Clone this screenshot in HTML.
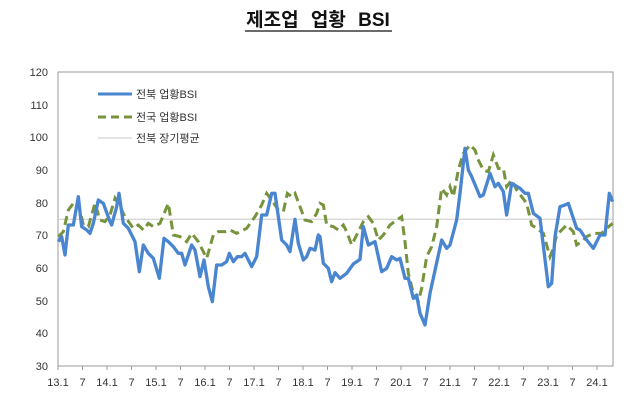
<!DOCTYPE html>
<html><head><meta charset="utf-8"><style>
body{margin:0;background:#fff;width:640px;height:404px;overflow:hidden}
svg{display:block;font-family:"Liberation Sans","Noto Sans CJK KR",sans-serif}
</style></head><body>
<svg width="640" height="404" viewBox="0 0 640 404">
<text x="318" y="26" text-anchor="middle" font-size="19" font-weight="bold" fill="#111" word-spacing="7">제조업 업황 BSI</text>
<line x1="245" y1="31" x2="392" y2="31" stroke="#111" stroke-width="1.3"/>
<rect x="58" y="72" width="555" height="294" fill="none" stroke="#999" stroke-width="1"/>
<g font-size="11" fill="#333" text-anchor="end">
<text x="48" y="76">120</text><text x="48" y="109">110</text><text x="48" y="141">100</text>
<text x="48" y="174">90</text><text x="48" y="207">80</text><text x="48" y="239">70</text>
<text x="48" y="272">60</text><text x="48" y="305">50</text><text x="48" y="337">40</text><text x="48" y="370">30</text>
</g>
<g stroke="#999" stroke-width="1">
<line x1="58" y1="366" x2="58" y2="370"/><line x1="82.5" y1="366" x2="82.5" y2="370"/><line x1="107" y1="366" x2="107" y2="370"/><line x1="131.5" y1="366" x2="131.5" y2="370"/><line x1="156" y1="366" x2="156" y2="370"/><line x1="180.5" y1="366" x2="180.5" y2="370"/><line x1="205" y1="366" x2="205" y2="370"/><line x1="229.5" y1="366" x2="229.5" y2="370"/><line x1="254" y1="366" x2="254" y2="370"/><line x1="278.5" y1="366" x2="278.5" y2="370"/><line x1="303" y1="366" x2="303" y2="370"/><line x1="327.5" y1="366" x2="327.5" y2="370"/><line x1="352" y1="366" x2="352" y2="370"/><line x1="376.5" y1="366" x2="376.5" y2="370"/><line x1="401" y1="366" x2="401" y2="370"/><line x1="425.5" y1="366" x2="425.5" y2="370"/><line x1="450" y1="366" x2="450" y2="370"/><line x1="474.5" y1="366" x2="474.5" y2="370"/><line x1="499" y1="366" x2="499" y2="370"/><line x1="523.5" y1="366" x2="523.5" y2="370"/><line x1="548" y1="366" x2="548" y2="370"/><line x1="572.5" y1="366" x2="572.5" y2="370"/><line x1="597" y1="366" x2="597" y2="370"/>
</g>
<g font-size="11" fill="#333" text-anchor="middle">
<text x="58" y="386">13.1</text><text x="82.5" y="386">7</text><text x="107" y="386">14.1</text><text x="131.5" y="386">7</text><text x="156" y="386">15.1</text><text x="180.5" y="386">7</text><text x="205" y="386">16.1</text><text x="229.5" y="386">7</text><text x="254" y="386">17.1</text><text x="278.5" y="386">7</text><text x="303" y="386">18.1</text><text x="327.5" y="386">7</text><text x="352" y="386">19.1</text><text x="376.5" y="386">7</text><text x="401" y="386">20.1</text><text x="425.5" y="386">7</text><text x="450" y="386">21.1</text><text x="474.5" y="386">7</text><text x="499" y="386">22.1</text><text x="523.5" y="386">7</text><text x="548" y="386">23.1</text><text x="572.5" y="386">7</text><text x="597" y="386">24.1</text>
</g>
<line x1="58" y1="219.3" x2="613" y2="219.3" stroke="#c8c8c8" stroke-width="1"/>
<g transform="translate(0,60) scale(0.33333)">
<polyline fill="none" stroke="#77933c" stroke-width="9" stroke-dasharray="27,15" points="175,530 190,515 205,450 220,430 235,430 250,495 265,500 285,430 300,480 315,485 330,465 345,415 360,440 375,470 400,505 415,495 430,510 445,490 460,500 480,490 505,430 520,525 540,530 560,545 575,520 595,545 620,595 640,525 655,515 675,515 690,510 710,520 740,505 765,470 785,435 800,400 815,420 835,450 850,455 862,400 875,410 885,400 900,440 915,480 935,485 950,460 960,430 970,435 980,495 1000,500 1015,510 1030,495 1040,515 1055,555 1070,525 1090,485 1105,470 1120,490 1135,540 1150,525 1170,495 1190,480 1205,470 1215,545 1225,640 1240,700 1255,725 1265,685 1280,590 1295,560 1310,500 1325,385 1340,405 1350,380 1360,410 1375,330 1390,280 1410,255 1425,270 1435,300 1450,330 1465,335 1480,285 1495,325 1510,325 1520,380 1535,360 1550,390 1565,410 1580,430 1595,495 1610,505 1630,520 1650,590 1660,565 1670,525 1700,495 1720,515 1730,555 1745,545 1760,530 1780,520 1805,520 1820,505 1838,490"/>
<polyline fill="none" stroke="#4a86d0" stroke-width="10" stroke-linejoin="round" points="175,545 185,530 195,585 205,495 220,495 235,410 245,500 260,510 270,520 280,490 295,420 310,430 330,485 335,495 350,440 357,400 370,490 385,505 405,545 418,635 430,555 445,580 460,595 478,655 492,535 505,545 520,560 535,580 545,580 555,615 575,555 585,570 600,650 612,600 625,680 637,725 650,615 665,615 680,605 688,580 700,605 712,590 725,590 735,580 755,620 770,590 785,465 800,465 815,400 825,400 835,470 845,540 860,555 870,575 885,478 895,550 910,600 920,590 930,565 945,570 955,525 960,530 970,610 985,625 995,665 1005,638 1020,655 1040,640 1060,612 1080,598 1090,500 1105,555 1125,545 1145,635 1160,625 1175,590 1190,600 1200,595 1215,655 1225,655 1240,715 1250,705 1260,760 1275,795 1290,700 1325,540 1340,565 1350,555 1370,480 1380,400 1395,265 1405,330 1415,350 1440,410 1450,405 1470,340 1485,380 1495,370 1510,395 1520,465 1535,370 1560,385 1575,400 1585,400 1600,460 1620,475 1645,680 1655,670 1665,530 1680,440 1695,435 1705,430 1730,505 1740,510 1760,540 1780,565 1800,525 1815,525 1828,400 1838,425"/>
</g>
<line x1="98" y1="94" x2="132" y2="94" stroke="#4a86d0" stroke-width="3"/>
<line x1="98" y1="117" x2="132" y2="117" stroke="#77933c" stroke-width="3" stroke-dasharray="8,5"/>
<line x1="98" y1="138" x2="132" y2="138" stroke="#c8c8c8" stroke-width="1"/>
<g font-size="11" fill="#333">
<text x="136" y="98">전북 업황BSI</text>
<text x="136" y="121">전국 업황BSI</text>
<text x="136" y="142">전북 장기평균</text>
</g>
</svg>
</body></html>
